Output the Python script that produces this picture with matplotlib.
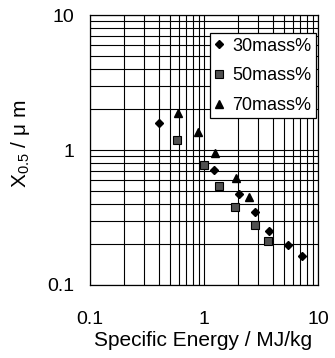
import matplotlib
matplotlib.use("Agg")
import matplotlib.pyplot as plt
from matplotlib.ticker import LogLocator, FixedLocator, FixedFormatter, NullFormatter

plt.rcParams['font.family'] = ['Liberation Sans', 'DejaVu Sans']
plt.rcParams['mathtext.fontset'] = 'custom'
plt.rcParams['mathtext.rm'] = 'Liberation Sans'
plt.rcParams['mathtext.it'] = 'Liberation Sans'

x30 = [0.405, 1.23, 2.04, 2.80, 3.72, 5.49, 7.19]
y30 = [1.58, 0.71, 0.47, 0.349, 0.25, 0.198, 0.164]
x50 = [0.584, 1.0, 1.35, 1.86, 2.80, 3.64]
y50 = [1.19, 0.78, 0.544, 0.38, 0.278, 0.213]
x70 = [0.596, 0.886, 1.24, 1.92, 2.50]
y70 = [1.87, 1.36, 0.955, 0.624, 0.446]
labels = ['30mass%', '50mass%', '70mass%']
major_ticks = [0.1, 1, 10]
major_labels = ['0.1', '1', '10']

fig = plt.figure(figsize=(3.35, 3.58), dpi=100)
ax = fig.add_axes([0.2687, 0.204, 0.6806, 0.754])
ax.set_xscale('log')
ax.set_yscale('log')
ax.set_xlim(0.1, 10)
ax.set_ylim(0.1, 10)

ax.xaxis.set_major_locator(FixedLocator(major_ticks))
ax.yaxis.set_major_locator(FixedLocator(major_ticks))
ax.xaxis.set_major_formatter(FixedFormatter(major_labels))
ax.yaxis.set_major_formatter(FixedFormatter(major_labels))
ax.xaxis.set_minor_locator(LogLocator(base=10, subs=range(2, 10)))
ax.yaxis.set_minor_locator(LogLocator(base=10, subs=range(2, 10)))
ax.xaxis.set_minor_formatter(NullFormatter())
ax.yaxis.set_minor_formatter(NullFormatter())
ax.grid(True, which='both', color='black', linewidth=0.8)
ax.tick_params(which='both', length=0, labelsize=14)
ax.tick_params(axis='x', pad=19)
ax.tick_params(axis='y', pad=11.5)
for s in ax.spines.values():
    s.set_linewidth(0.9)
ax.set_axisbelow(True)

ax.plot(x30, y30, linestyle='none', marker='D', markersize=4.2, color='black', label=labels[0])
ax.plot(x50, y50, linestyle='none', marker='s', markersize=5.5, markerfacecolor='#505050',
        markeredgecolor='black', markeredgewidth=0.8, label=labels[1])
ax.plot(x70, y70, linestyle='none', marker='^', markersize=5.5, color='black', label=labels[2])

leg = ax.legend(loc='upper right', bbox_to_anchor=(0.99, 0.933), fontsize=13,
                frameon=True, fancybox=False, framealpha=1, edgecolor='black',
                handlelength=0.6, handletextpad=0.4, borderpad=0.25, labelspacing=0.7,
                borderaxespad=0)
leg.get_frame().set_linewidth(0.9)

ax.set_xlabel('Specific Energy / MJ/kg', fontsize=15)
ax.xaxis.set_label_coords(0.496, -0.17)
ax.xaxis.label.set_va('top')
ax.set_ylabel('X$_{0.5}$ / μ m', fontsize=15)
ax.yaxis.set_label_coords(-0.254, 0.524)

fig.savefig('out.png', dpi=100)
